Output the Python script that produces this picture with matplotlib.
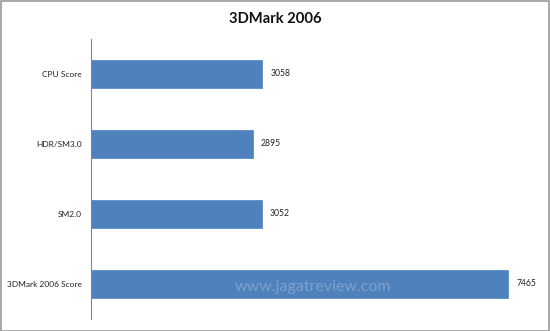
import matplotlib
matplotlib.use("Agg")
import matplotlib.pyplot as plt
from matplotlib.patches import Rectangle

categories = ["CPU Score", "HDR/SM3.0", "SM2.0", "3DMark 2006 Score"]
values = [3058, 2895, 3052, 7465]
title = "3DMark 2006"

plt.rcParams['font.family'] = ['Lato', 'DejaVu Sans']

fig = plt.figure(figsize=(5.5, 3.31), dpi=100)
ax = fig.add_axes([91/550, 1-319/331, (538-91)/550, 280/331])

ys = list(range(len(categories)))
ax.barh(ys, values, height=0.39, color="#4F81BD", edgecolor="#5B8CC7", linewidth=0.6)
ax.set_ylim(len(categories)-0.5, -0.5)
ax.set_xlim(0, 8000)
ax.set_yticks(ys)
ax.set_yticklabels(categories, fontsize=6, color="#222222")
ax.tick_params(axis='y', length=0, pad=6.5)
ax.set_xticks([])
for s in ["top", "right", "bottom"]:
    ax.spines[s].set_visible(False)
ax.spines["left"].set_color("#868686")
ax.spines["left"].set_linewidth(0.8)

for y, v in zip(ys, values):
    ax.annotate(f"{v}", xy=(v, y), xytext=(6, 0), textcoords="offset points",
                va="center", ha="left", fontsize=6.2, color="#222222")

fig.text(0.5, 1-19/331, title, ha="center", va="center", fontsize=10.6,
         fontweight="bold", color="#111111")

fig.text(313/550, 1-287/331, "www.jagatreview.com", ha="center", va="center",
         fontsize=11.5, color="#9DB5D6", alpha=0.6)

fig.patches.append(Rectangle((0.5/550, 0.5/331), 1-1.5/550, 1-1.5/331,
                             transform=fig.transFigure, fill=False,
                             edgecolor="#9A9A9A", linewidth=1.2))

fig.savefig("out.png", dpi=100)
